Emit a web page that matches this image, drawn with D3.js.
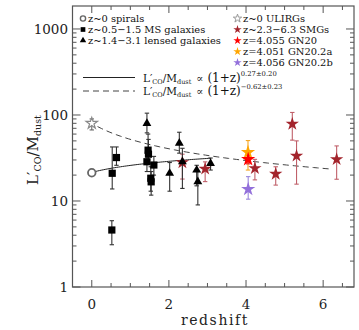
<!DOCTYPE html>
<html><head><meta charset="utf-8">
<script src="https://cdn.jsdelivr.net/npm/d3@7/dist/d3.min.js"></script>
<style>body{margin:0;background:#fff}svg{display:block}text{font-family:"DejaVu Serif",serif}</style>
</head><body><svg id="c" width="359" height="330"></svg>
<script>
// ---- data ----
const spiralZ = [0], spiralV = [21.3];
const msZ  = [0.52, 0.53, 0.64, 1.43, 1.46, 1.47, 1.53, 1.54, 1.61];
const msV  = [4.6, 21, 32, 28.6, 39, 35, 18.4, 16.7, 26.2];
const msLo = [3.1, 13.8, 26, 22, 30, 27, 13, 11.7, 20];
const msHi = [5.9, 42.5, 42.5, 36, 60, 52, 25, 22, 33];
const lensZ  = [1.43, 2.02, 2.27, 2.35, 2.72, 2.75, 3.08];
const lensV  = [80, 21, 47, 28.6, 22.9, 16.8, 27.4];
const lensLo = [62, 13, 36, 14, 15, 9, 22.9];
const lensHi = [105, 28, 63, 41, 26, 22, 31.6];
const ulirgZ = [0], ulirgV = [80], ulirgLo = [67], ulirgHi = [90];
const smgZ  = [2.35, 2.94, 4.23, 4.77, 5.2, 5.31, 6.35];
const smgV  = [28, 23.6, 24, 20.6, 78.6, 33.4, 30.5];
const smgLo = [18, 16.8, 17.6, 15.3, 51, 15.7, 17.9];
const smgHi = [35, 28.5, 30.5, 25, 107, 50, 43.7];
const gn20   = {z: 4.055, v: 30.5, lo: 27, hi: 34};
const gn20a  = {z: 4.051, v: 36.8, lo: 22.9, hi: 50.4};
const gn20b  = {z: 4.056, v: 13.7, lo: 10.5, hi: 19.2};
const fitSolid = {a: 21.5, p: 0.27, z0: 0.1, z1: 3.08};
const fitDash  = {a: 80, p: -0.62, z0: 0.15, z1: 6.15};
const xTicks = [0, 2, 4, 6];
const yTicks = [1, 10, 100, 1000];
const yTickLabels = ["1", "10", "100", "1000"];

// ---- scales ----
const svg = d3.select("#c");
const x = d3.scaleLinear().domain([-0.5, 6.8]).range([72.5, 354]);
const y = d3.scaleLog().domain([1, 1850]).range([287, 6]);
const axisCol = "#555";

// frame
svg.append("rect").attr("x", x(-0.5)).attr("y", y(1850)).attr("width", x(6.8) - x(-0.5))
  .attr("height", y(1) - y(1850)).attr("fill", "none").attr("stroke", axisCol).attr("stroke-width", 1.2);

const tk = svg.append("g").attr("stroke", axisCol).attr("stroke-width", 1);
// x ticks
d3.range(-0.5, 6.81, 0.5).forEach(v => {
  const len = xTicks.includes(v) ? 7 : 4;
  tk.append("line").attr("x1", x(v)).attr("x2", x(v)).attr("y1", y(1)).attr("y2", y(1) - len);
  tk.append("line").attr("x1", x(v)).attr("x2", x(v)).attr("y1", y(1850)).attr("y2", y(1850) + len);
});
// y ticks
[1, 10, 100, 1000].forEach(d => {
  for (let k = 1; k <= 9; k++) {
    const v = d * k; if (v > 1850) continue;
    const len = k === 1 ? 8 : 4;
    tk.append("line").attr("x1", x(-0.5)).attr("x2", x(-0.5) + len).attr("y1", y(v)).attr("y2", y(v));
    tk.append("line").attr("x1", x(6.8)).attr("x2", x(6.8) - len).attr("y1", y(v)).attr("y2", y(v));
  }
});
// tick labels
yTicks.forEach((v, i) => svg.append("text").attr("x", 68).attr("y", y(v) + 5).attr("text-anchor", "end")
  .attr("font-size", 13.5).attr("fill", "#222").text(yTickLabels[i]));
xTicks.forEach(v => svg.append("text").attr("x", x(v)).attr("y", 309).attr("text-anchor", "middle")
  .attr("font-size", 13.5).attr("fill", "#222").text(v));
svg.append("text").attr("x", 215).attr("y", 325).attr("text-anchor", "middle").attr("font-size", 14)
  .attr("letter-spacing", 1.6).attr("fill", "#222").text("redshift");
// y label
const yl = svg.append("text").attr("transform", "translate(38,150) rotate(-90)").attr("text-anchor", "middle")
  .attr("font-size", 15).attr("fill", "#222");
yl.append("tspan").text("L′");
yl.append("tspan").attr("font-size", 9.5).attr("dy", 3).text("CO");
yl.append("tspan").attr("dy", -3).text("/M");
yl.append("tspan").attr("font-size", 9.5).attr("dy", 3).text("dust");

// ---- fits ----
const fitLine = d3.line().x(d => x(d[0])).y(d => y(d[1]));
function fitPts(f) { return d3.range(f.z0, f.z1 + 1e-9, (f.z1 - f.z0) / 60).map(z => [z, f.a * Math.pow(1 + z, f.p)]); }
svg.append("path").attr("d", fitLine(fitPts(fitSolid))).attr("fill", "none").attr("stroke", "#222").attr("stroke-width", 1);
svg.append("path").attr("d", fitLine(fitPts(fitDash))).attr("fill", "none").attr("stroke", "#444")
  .attr("stroke-width", 1).attr("stroke-dasharray", "6,4");

// ---- helpers ----
function errbar(z, lo, hi, col) {
  const g = svg.append("g").attr("stroke", col).attr("stroke-width", 1.1);
  g.append("line").attr("x1", x(z)).attr("x2", x(z)).attr("y1", y(lo)).attr("y2", y(hi));
  g.append("line").attr("x1", x(z) - 2.2).attr("x2", x(z) + 2.2).attr("y1", y(lo)).attr("y2", y(lo));
  g.append("line").attr("x1", x(z) - 2.2).attr("x2", x(z) + 2.2).attr("y1", y(hi)).attr("y2", y(hi));
}
const starSize = r => r * r / 0.8908130915;
function sym(type, size, px, py, fill, stroke, sw) {
  svg.append("path").attr("d", d3.symbol(type, size)()).attr("transform", `translate(${px},${py})`)
    .attr("fill", fill).attr("stroke", stroke || "none").attr("stroke-width", sw || 0);
}

// ULIRG
ulirgZ.forEach((z, i) => { errbar(z, ulirgLo[i], ulirgHi[i], "#666"); });
ulirgZ.forEach((z, i) => sym(d3.symbolStar, starSize(6), x(z), y(ulirgV[i]), "#fff", "#888", 1.2));
// spirals
spiralZ.forEach((z, i) => svg.append("circle").attr("cx", x(z)).attr("cy", y(spiralV[i])).attr("r", 3.8)
  .attr("fill", "none").attr("stroke", "#666").attr("stroke-width", 1.8));
// SMGs
const smgCol = "#a3242c", smgErr = "#c0606a";
smgZ.forEach((z, i) => errbar(z, smgLo[i], smgHi[i], smgErr));
smgZ.forEach((z, i) => sym(d3.symbolStar, starSize(7), x(z), y(smgV[i]), smgCol));
// MS galaxies
msZ.forEach((z, i) => errbar(z, msLo[i], msHi[i], "#333"));
msZ.forEach((z, i) => sym(d3.symbolSquare, 52, x(z), y(msV[i]), "#000"));
// lensed
lensZ.forEach((z, i) => errbar(z, lensLo[i], lensHi[i], "#333"));
lensZ.forEach((z, i) => sym(d3.symbolTriangle, 34, x(lensZ[i]), y(lensV[i]), "#000"));
// GN20 system
errbar(gn20a.z, gn20a.lo, gn20a.hi, "#f5a623");
errbar(gn20b.z, gn20b.lo, gn20b.hi, "#9a86dd");
errbar(gn20.z, gn20.lo, gn20.hi, "#e02020");
sym(d3.symbolStar, starSize(7.5), x(gn20a.z), y(gn20a.v), "#ffa500");
sym(d3.symbolStar, starSize(7.5), x(gn20.z), y(gn20.v), "#ff0000");
sym(d3.symbolStar, starSize(7.5), x(gn20b.z), y(gn20b.v), "#9370db");

// ---- legend ----
const lf = 9.9;
const legL = [
  {t: "z~0 spirals", s: "circle"},
  {t: "z~0.5\u22121.5 MS galaxies", s: "square"},
  {t: "z~1.4\u22123.1 lensed galaxies", s: "tri"}
];
legL.forEach((d, i) => {
  const yy = 18.5 + i * 11;
  if (d.s === "circle") svg.append("circle").attr("cx", 83).attr("cy", yy).attr("r", 2.6).attr("fill", "none").attr("stroke", "#666").attr("stroke-width", 1.4);
  if (d.s === "square") sym(d3.symbolSquare, 22, 83, yy, "#000");
  if (d.s === "tri") sym(d3.symbolTriangle, 18, 83, yy, "#000");
  svg.append("text").attr("x", 88).attr("y", yy + 3.5).attr("font-size", lf).attr("fill", "#111").text(d.t);
});
const legR = [
  {t: "z~0 ULIRGs", f: "#fff", s: "#999"},
  {t: "z~2.3\u22126.3 SMGs", f: smgCol},
  {t: "z=4.055 GN20", f: "#ff0000"},
  {t: "z=4.051 GN20.2a", f: "#ffa500"},
  {t: "z=4.056 GN20.2b", f: "#9370db"}
];
legR.forEach((d, i) => {
  const yy = 18.5 + i * 11;
  sym(d3.symbolStar, starSize(4.4), 237.5, yy, d.f, d.s, d.s ? 1 : 0);
  svg.append("text").attr("x", 243).attr("y", yy + 3.5).attr("font-size", lf).attr("fill", "#111").text(d.t);
});
// fit legend
function fitLabel(yy, sup) {
  const t = svg.append("text").attr("x", 143).attr("y", yy).attr("font-size", 10.5).attr("fill", "#111");
  t.append("tspan").text("L′");
  t.append("tspan").attr("font-size", 6.5).attr("dy", 2).text("CO");
  t.append("tspan").attr("dy", -2).text("/M");
  t.append("tspan").attr("font-size", 6.5).attr("dy", 2).text("dust");
  t.append("tspan").attr("dy", -2).attr("dx", 5).text("\u221D");
  t.append("tspan").attr("dx", 4).attr("font-size", 12).text("(1+z)");
  t.append("tspan").attr("font-size", 6.8).attr("dy", -6).text(sup);
}
svg.append("line").attr("x1", 83).attr("x2", 135).attr("y1", 77.5).attr("y2", 77.5).attr("stroke", "#222");
svg.append("line").attr("x1", 83).attr("x2", 135).attr("y1", 91).attr("y2", 91).attr("stroke", "#444").attr("stroke-dasharray", "6,4");
fitLabel(81.5, "0.27\u00B10.20");
fitLabel(95, "\u22120.62\u00B10.23");
</script></body></html>
